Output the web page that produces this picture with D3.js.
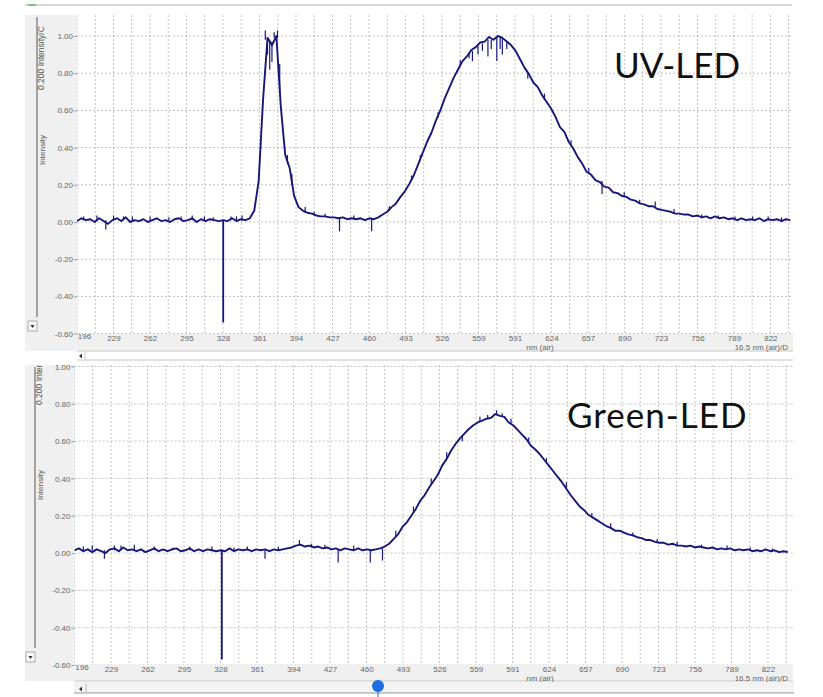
<!DOCTYPE html>
<html>
<head>
<meta charset="utf-8">
<script src="https://cdn.jsdelivr.net/npm/d3@7"></script>
<style>
  html, body { margin: 0; padding: 0; background: #fff; }
  svg { display: block; }
  .tick text { font-family: "Liberation Sans", Arial, sans-serif; }
</style>
</head>
<body>
<svg id="chart" width="823" height="697"></svg>
<script>
'use strict';

/* Spectrometer screenshot: two stacked spectra (UV-LED / Green-LED) */

// wavelength grid, nm, 4 nm steps from 196 to 840
const wavelengths = d3.range(196, 841, 4);

const uvValues = [
  0.005, 0.02, 0.01, 0.015, 0.0, 0.02, 0.005, -0.01, 0.01, 0.02,
  0.005, 0.025, 0.0, 0.01, 0.005, 0.015, 0.0, 0.01, 0.02, 0.005,
  0.01, 0.0, 0.015, 0.02, 0.005, 0.01, 0.02, 0.0, 0.015, 0.005,
  0.015, 0.01, 0.005, 0.01, 0.005, 0.02, 0.005, 0.015, 0.01, 0.02,
  0.06, 0.22, 0.66, 0.99, 0.95, 1.0, 0.62, 0.36, 0.29, 0.14,
  0.08, 0.06, 0.05, 0.045, 0.035, 0.03, 0.03, 0.025, 0.025, 0.02,
  0.025, 0.015, 0.02, 0.015, 0.02, 0.01, 0.02, 0.015, 0.025, 0.04,
  0.055, 0.08, 0.10, 0.135, 0.165, 0.205, 0.25, 0.31, 0.37, 0.43,
  0.48, 0.545, 0.60, 0.665, 0.72, 0.775, 0.82, 0.865, 0.89, 0.925,
  0.94, 0.965, 0.97, 0.995, 0.98, 1.0, 0.99, 0.97, 0.95, 0.92,
  0.875, 0.83, 0.795, 0.75, 0.725, 0.68, 0.645, 0.61, 0.565, 0.51,
  0.485, 0.43, 0.395, 0.35, 0.315, 0.27, 0.255, 0.225, 0.215, 0.19,
  0.185, 0.16, 0.155, 0.14, 0.135, 0.12, 0.115, 0.10, 0.095, 0.085,
  0.085, 0.07, 0.065, 0.06, 0.055, 0.045, 0.045, 0.04, 0.04, 0.03,
  0.035, 0.025, 0.03, 0.02, 0.03, 0.02, 0.025, 0.015, 0.02, 0.01,
  0.02, 0.01, 0.015, 0.01, 0.02, 0.005, 0.015, 0.01, 0.015, 0.005, 0.015, 0.01
];

const greenValues = [
  0.015, 0.025, 0.01, 0.02, 0.005, 0.02, 0.01, 0.0, 0.02, 0.025,
  0.01, 0.03, 0.015, 0.02, 0.01, 0.02, 0.005, 0.015, 0.025, 0.01,
  0.02, 0.01, 0.02, 0.025, 0.01, 0.015, 0.025, 0.01, 0.02, 0.01,
  0.02, 0.015, 0.01, 0.015, 0.01, 0.025, 0.01, 0.02, 0.015, 0.02,
  0.01, 0.02, 0.015, 0.02, 0.01, 0.02, 0.015, 0.02, 0.025, 0.03,
  0.04, 0.045, 0.035, 0.04, 0.03, 0.035, 0.025, 0.03, 0.02, 0.025,
  0.015, 0.025, 0.02, 0.015, 0.025, 0.015, 0.02, 0.015, 0.02, 0.025,
  0.035, 0.05, 0.075, 0.10, 0.14, 0.165, 0.20, 0.235, 0.28, 0.31,
  0.35, 0.385, 0.42, 0.47, 0.505, 0.55, 0.585, 0.615, 0.64, 0.665,
  0.685, 0.70, 0.71, 0.72, 0.725, 0.745, 0.735, 0.73, 0.70, 0.685,
  0.66, 0.635, 0.61, 0.575, 0.555, 0.53, 0.50, 0.47, 0.44, 0.41,
  0.38, 0.345, 0.31, 0.28, 0.25, 0.23, 0.205, 0.19, 0.175, 0.16,
  0.145, 0.135, 0.12, 0.12, 0.11, 0.10, 0.095, 0.085, 0.08, 0.07,
  0.07, 0.06, 0.055, 0.055, 0.045, 0.05, 0.04, 0.04, 0.035, 0.04,
  0.03, 0.035, 0.03, 0.025, 0.03, 0.02, 0.025, 0.02, 0.025, 0.015,
  0.02, 0.015, 0.02, 0.01, 0.015, 0.01, 0.02, 0.01, 0.015, 0.005, 0.01, 0.005
];

// single-channel spikes: [nm, from, to]
const uvSpikes = [
  [202, 0.01, 0.03], [214, 0.01, 0.035], [222, 0.01, -0.04], [229, 0.01, 0.035],
  [238, 0.01, 0.03], [246, 0.01, 0.03], [262, 0.01, 0.03], [279, 0.01, 0.025],
  [290, 0.01, 0.03], [300, 0.01, 0.035], [311, 0.01, 0.03], [319, 0.01, 0.025],
  [328, 0.01, -0.54], [335, 0.01, 0.03], [340, 0.01, 0.03], [345, 0.01, 0.035],
  [366, 0.98, 1.03], [368, 0.99, 0.9], [370, 0.98, 0.82], [372, 0.97, 0.86],
  [374, 0.99, 1.02], [377, 0.99, 1.03], [379, 0.7, 0.85], [386, 0.31, 0.36],
  [390, 0.2, 0.26], [402, 0.05, 0.08], [410, 0.035, 0.055], [420, 0.03, 0.045],
  [433, 0.02, -0.05], [446, 0.02, 0.035], [462, 0.02, -0.05], [478, 0.06, 0.085],
  [498, 0.22, 0.25], [506, 0.33, 0.36], [522, 0.56, 0.59], [542, 0.84, 0.87],
  [550, 0.91, 0.88], [553, 0.92, 0.865], [558, 0.95, 0.9], [562, 0.96, 0.92],
  [567, 0.98, 0.89], [570, 0.98, 0.93], [575, 0.99, 0.865], [578, 1.0, 0.93],
  [580, 0.99, 0.9], [584, 0.97, 0.93], [603, 0.8, 0.77], [618, 0.66, 0.69],
  [642, 0.41, 0.44], [658, 0.26, 0.29], [670, 0.22, 0.15], [690, 0.135, 0.16],
  [704, 0.1, 0.12], [718, 0.075, 0.11], [735, 0.05, 0.07], [760, 0.02, 0.04],
  [775, 0.02, 0.035], [790, 0.01, 0.03], [806, 0.01, 0.03], [820, 0.01, 0.03],
  [832, 0.01, 0.025]
];

const greenSpikes = [
  [204, 0.015, 0.035], [212, 0.015, 0.04], [223, 0.015, -0.03], [232, 0.015, 0.04],
  [238, 0.015, 0.04], [250, 0.015, 0.045], [268, 0.015, 0.035], [285, 0.015, 0.03],
  [300, 0.015, 0.035], [320, 0.015, 0.035], [329, 0.015, -0.57], [340, 0.015, 0.03],
  [352, 0.015, 0.035], [368, 0.015, -0.03], [380, 0.02, 0.035], [399, 0.04, 0.07],
  [410, 0.03, 0.05], [422, 0.025, 0.045], [434, 0.02, -0.05], [448, 0.02, 0.04],
  [463, 0.02, -0.05], [474, 0.025, -0.04], [486, 0.09, 0.12], [502, 0.22, 0.25],
  [518, 0.37, 0.4], [532, 0.51, 0.54], [546, 0.63, 0.6], [562, 0.705, 0.73],
  [569, 0.72, 0.74], [577, 0.74, 0.765], [582, 0.73, 0.75], [590, 0.69, 0.72],
  [606, 0.59, 0.62], [622, 0.485, 0.51], [640, 0.35, 0.38], [663, 0.19, 0.215],
  [680, 0.13, 0.16], [700, 0.09, 0.11], [722, 0.055, 0.075], [740, 0.04, 0.06],
  [762, 0.03, 0.045], [785, 0.02, 0.04], [806, 0.015, 0.03], [826, 0.01, 0.025]
];

const xLabels = ['196', '229', '262', '295', '328', '361', '394', '427', '460', '493',
                 '526', '559', '591', '624', '657', '690', '723', '756', '789', '822'];
const xStep = 32.947;          // nm between labelled ticks
const yTicks = [-0.6, -0.4, -0.2, 0, 0.2, 0.4, 0.6, 0.8, 1.0];

const LINE = '#17177a';
const PANEL_BG = '#f0f0f0';
const GRID = '#b4b4b4';
const FONT = '"Liberation Sans", Arial, sans-serif';

const svg = d3.select('#chart');

// top strip of the window
svg.append('line').attr('x1', 25).attr('x2', 792).attr('y1', 5).attr('y2', 5)
  .attr('stroke', '#d8d8d8').attr('stroke-width', 2);
svg.append('rect').attr('x', 28).attr('y', 4).attr('width', 8).attr('height', 2).attr('fill', '#7cc47c');

function drawPanel(p) {
  const g = svg.append('g');
  const x = d3.scaleLinear().domain(p.xDomain).range([p.left, p.right]);
  const y = d3.scaleLinear().domain([-0.6, 1.0]).range(p.yRange);
  const W = p.right - p.left;

  // grey frame pieces: left strip and x-label band
  g.append('rect').attr('x', 25).attr('y', p.top).attr('width', p.left - 25)
    .attr('height', p.bandBottom - p.top).attr('fill', PANEL_BG);
  g.append('rect').attr('x', p.left).attr('y', p.bottom).attr('width', W)
    .attr('height', p.bandBottom - p.bottom).attr('fill', PANEL_BG);
  g.append('line').attr('x1', p.left).attr('x2', p.right)
    .attr('y1', p.bandBottom).attr('y2', p.bandBottom).attr('stroke', '#c8c8c8');

  // vertical scroll line and dropdown button in the left strip
  g.append('line').attr('x1', p.vline).attr('x2', p.vline)
    .attr('y1', p.top + 2).attr('y2', p.btnY - 4)
    .attr('stroke', '#8a8a8a').attr('stroke-width', 1.5);
  g.append('rect').attr('x', p.vline - 9).attr('y', p.btnY).attr('width', 9).attr('height', 10)
    .attr('fill', '#fafafa').attr('stroke', '#9a9a9a').attr('stroke-width', 0.8);
  g.append('path')
    .attr('d', `M${p.vline - 6.5},${p.btnY + 4} l4,0 l-2,3 z`).attr('fill', '#333');

  const clipId = 'clip-' + p.name;
  svg.append('clipPath').attr('id', clipId).append('rect')
    .attr('x', p.left).attr('y', p.top).attr('width', W).attr('height', p.bottom - p.top);
  svg.append('clipPath').attr('id', clipId + '-panel').append('rect')
    .attr('x', 0).attr('y', p.top).attr('width', 823).attr('height', p.bandBottom - p.top);

  // dotted grid
  const half = d3.range(0, 40).map(i => 196 + i * xStep / 2).filter(v => v <= p.xDomain[1]);
  g.append('g').attr('clip-path', `url(#${clipId})`)
    .selectAll('line.vg').data(half).join('line')
    .attr('x1', d => x(d)).attr('x2', d => x(d))
    .attr('y1', p.top).attr('y2', p.bottom)
    .attr('stroke', GRID).attr('stroke-width', 0.8).attr('stroke-dasharray', '2,2');
  g.append('g').attr('clip-path', `url(#${clipId})`)
    .selectAll('line.hg').data(yTicks).join('line')
    .attr('x1', p.left).attr('x2', p.right)
    .attr('y1', d => y(d)).attr('y2', d => y(d))
    .attr('stroke', GRID).attr('stroke-width', 0.8).attr('stroke-dasharray', '2,2');

  // y axis labels (clipped at the panel top)
  const yWrap = g.append('g').attr('clip-path', `url(#${clipId}-panel)`);
  const yAxis = yWrap.append('g')
    .attr('transform', `translate(${p.left},0)`)
    .call(d3.axisLeft(y).tickValues(yTicks).tickSize(3).tickPadding(1)
      .tickFormat(d => d.toFixed(2)));
  yAxis.select('.domain').remove();
  yAxis.selectAll('.tick line').attr('stroke', '#999');
  yAxis.selectAll('.tick text').attr('fill', '#666').style('font-size', '8px');

  // x axis labels
  const labelNm = xLabels.map((_, i) => 196 + i * xStep);
  const xAxis = g.append('g').attr('transform', `translate(0,${p.bottom})`)
    .call(d3.axisBottom(x).tickValues(labelNm).tickSize(0).tickPadding(1)
      .tickFormat((d, i) => xLabels[i]));
  xAxis.select('.domain').remove();
  xAxis.selectAll('.tick text').attr('fill', '#666').style('font-size', '8px');
  xAxis.select('.tick text').attr('dx', 7).attr('dy', '0.5em');

  g.append('text').attr('x', 540).attr('y', p.bottom + 15.5).attr('text-anchor', 'middle')
    .attr('fill', '#666').style('font-family', FONT)
    .style('font-size', '8px').text('nm (air)');
  g.append('text').attr('x', 788).attr('y', p.bottom + 15.5).attr('text-anchor', 'end')
    .attr('fill', '#666').style('font-family', FONT)
    .style('font-size', '8px').text('16.5 nm (air)/D');

  // rotated axis titles
  yWrap.append('text')
    .attr('transform', `translate(${p.vline + 7},${p.top + p.unitY}) rotate(-90)`)
    .attr('fill', '#555').style('font-family', FONT)
    .style('font-size', '8.5px').text('0.200 Intensity/C');
  g.append('text')
    .attr('transform', `translate(${p.vline + 8},${p.top + p.titleY}) rotate(-90)`)
    .attr('text-anchor', 'middle')
    .attr('fill', '#555').style('font-family', FONT)
    .style('font-size', '8px').text('Intensity');

  // spectrum line
  const pts = wavelengths.map((w, i) => [w, p.values[i]]);
  const line = d3.line().x(d => x(d[0])).y(d => y(d[1]));
  const plot = g.append('g').attr('clip-path', `url(#${clipId})`);
  plot.append('path').datum(pts).attr('d', line)
    .attr('fill', 'none').attr('stroke', LINE).attr('stroke-width', 1.9)
    .attr('stroke-linejoin', 'round');
  plot.selectAll('line.spike').data(p.spikes).join('line')
    .attr('x1', d => x(d[0])).attr('x2', d => x(d[0]))
    .attr('y1', d => y(d[1])).attr('y2', d => y(d[2]))
    .attr('stroke', LINE).attr('stroke-width', d => Math.abs(d[2] - d[1]) > 0.3 ? 1.8 : 1.2);

  // big annotation
  g.append('text').attr('x', p.noteX).attr('y', p.noteY)
    .attr('fill', '#111').style('font-family', 'Lato, "Open Sans", sans-serif')
    .style('font-size', p.noteSize + 'px').style('letter-spacing', p.noteSpacing + 'px')
    .text(p.note);
}

drawPanel({
  name: 'uv', values: uvValues, spikes: uvSpikes,
  left: 77, right: 793, top: 15, bottom: 334, bandBottom: 351,
  xDomain: [196, 842.4], yRange: [333.6, 36],
  vline: 37, btnY: 321, titleY: 135, unitY: 75,
  note: 'UV-LED', noteX: 614, noteY: 78, noteSize: 35, noteSpacing: 0
});

// scrollbar of the upper panel
svg.append('line').attr('x1', 77).attr('x2', 793).attr('y1', 360).attr('y2', 360)
  .attr('stroke', '#c8c8c8');
svg.append('path').attr('d', 'M79,356 l3,-2.5 l0,5 z').attr('fill', '#333');
svg.append('line').attr('x1', 85).attr('x2', 85).attr('y1', 352).attr('y2', 359).attr('stroke', '#ccc');

drawPanel({
  name: 'green', values: greenValues, spikes: greenSpikes,
  left: 74.5, right: 793, top: 365, bottom: 665, bandBottom: 681,
  xDomain: [196, 844.6], yRange: [665, 366.5],
  vline: 35, btnY: 652, titleY: 120, unitY: 40,
  note: 'Green-LED', noteX: 567, noteY: 428, noteSize: 35, noteSpacing: 1
});

// bottom scrollbar with blue slider knob
svg.append('rect').attr('x', 74).attr('y', 682).attr('width', 720).attr('height', 11).attr('fill', '#f3f3f3');
svg.append('line').attr('x1', 74).attr('x2', 794).attr('y1', 693).attr('y2', 693).attr('stroke', '#999');
svg.append('path').attr('d', 'M79,689 l3,-2.5 l0,5 z').attr('fill', '#333');
svg.append('line').attr('x1', 86).attr('x2', 86).attr('y1', 684).attr('y2', 692).attr('stroke', '#bbb');
svg.append('line').attr('x1', 378).attr('x2', 378).attr('y1', 690).attr('y2', 697).attr('stroke', '#1d6fe3');
svg.append('circle').attr('cx', 378).attr('cy', 686).attr('r', 6).attr('fill', '#1d6fe3');
</script>
</body>
</html>
